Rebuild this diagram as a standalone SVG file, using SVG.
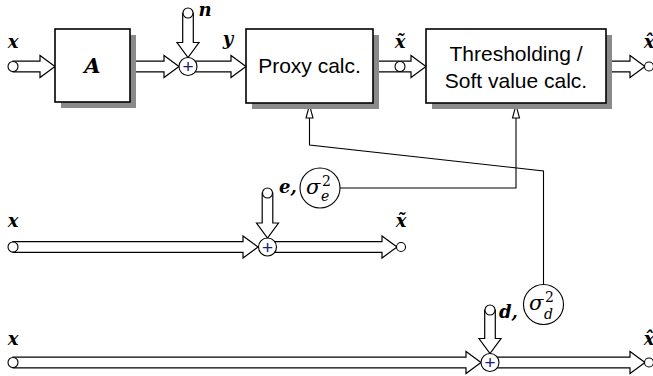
<svg xmlns="http://www.w3.org/2000/svg" width="653" height="376" viewBox="0 0 653 376">
<style>
.band{fill:#fff;stroke:#000;stroke-width:1.2;stroke-linejoin:miter}
.line{fill:none;stroke:#000;stroke-width:1.1}
.tri{fill:#fff;stroke:#000;stroke-width:1.1}
.box{fill:#fff;stroke:#000;stroke-width:1.6}
.shadow{fill:#8a8a8a}
.src{fill:#fff;stroke:#000;stroke-width:1.1}
.sum{fill:#fff;stroke:#000;stroke-width:1.1}
.plus{font-family:"Liberation Sans",Arial,sans-serif;font-size:19px;fill:#1a1a80;text-anchor:middle}
.m{font-family:"DejaVu Serif","Liberation Serif",serif;font-style:italic;font-weight:bold;font-size:18px;fill:#000}
.mc{text-anchor:middle}
.s{font-family:"DejaVu Serif","Liberation Serif",serif;font-style:italic;font-size:21px;fill:#000}
.sup{font-family:"DejaVu Serif","Liberation Serif",serif;font-size:14px;fill:#000}
.sub{font-family:"DejaVu Serif","Liberation Serif",serif;font-style:italic;font-size:14px;fill:#000}
.lbl{font-family:"Liberation Sans",Arial,sans-serif;font-size:21px;fill:#000;text-anchor:middle}
</style>

<g id="connectors">
  <!-- top row -->
  <polygon class="band" points="13,61.2 40,61.2 40,55.5 55,66.5 40,77.5 40,71.8 13,71.8"/>
  <polygon class="band" points="130,61.2 164,61.2 164,55.5 179,66.5 164,77.5 164,71.8 130,71.8"/>
  <polygon class="band" points="188,61.2 231,61.2 231,55.5 246,66.5 231,77.5 231,71.8 188,71.8"/>
  <polygon class="band" points="373,61.2 411,61.2 411,55.5 426,66.5 411,77.5 411,71.8 373,71.8"/>
  <polygon class="band" points="606,61.2 630,61.2 630,55.5 645,66.5 630,77.5 630,71.8 606,71.8"/>
  <polygon class="band" points="182.7,13 182.7,42.5 177,42.5 188,57.5 199,42.5 193.3,42.5 193.3,13"/>
  <!-- middle row -->
  <polygon class="band" points="13,241.7 243,241.7 243,236 258,247 243,258 243,252.3 13,252.3"/>
  <polygon class="band" points="267.5,241.7 382,241.7 382,236 397,247 382,258 382,252.3 267.5,252.3"/>
  <polygon class="band" points="262.2,193 262.2,223 256.5,223 267.5,238 278.5,223 272.8,223 272.8,193"/>
  <!-- bottom row -->
  <polygon class="band" points="13,357.2 466,357.2 466,351.5 481,362.5 466,373.5 466,367.8 13,367.8"/>
  <polygon class="band" points="490,357.2 630,357.2 630,351.5 645,362.5 630,373.5 630,367.8 490,367.8"/>
  <polygon class="band" points="484.7,310 484.7,338.5 479,338.5 490,353.5 501,338.5 495.3,338.5 495.3,310"/>
  <!-- side-information lines -->
  <polyline class="line" points="309.5,118 309.5,145 543.5,171 543.5,284.5"/>
  <polyline class="line" points="516,118 516,188 340,188"/>
  <polygon class="tri" points="309.5,105 306,118 313,118"/>
  <polygon class="tri" points="516,105 512.5,118 519.5,118"/>
</g>

<g id="box-A">
  <rect class="shadow" x="61" y="35" width="75" height="73"/>
  <rect class="box" x="55" y="29" width="75" height="73"/>
  <text class="m mc" x="92.5" y="73" style="font-size:21px">A</text>
</g>

<g id="box-proxy">
  <rect class="shadow" x="252" y="35" width="127" height="74"/>
  <rect class="box" x="246" y="29" width="127" height="74"/>
  <text class="lbl" x="309.5" y="73">Proxy calc.</text>
</g>

<g id="box-threshold">
  <rect class="shadow" x="432" y="35" width="180" height="74"/>
  <rect class="box" x="426" y="29" width="180" height="74"/>
  <text class="lbl" x="516" y="61">Thresholding /</text>
  <text class="lbl" x="516" y="88">Soft value calc.</text>
</g>

<g id="sum-top">
  <circle class="sum" cx="188" cy="66.5" r="9"/>
  <text class="plus" x="188" y="73">+</text>
</g>
<g id="sum-mid">
  <circle class="sum" cx="267.5" cy="247" r="9"/>
  <text class="plus" x="267.5" y="253.5">+</text>
</g>
<g id="sum-bot">
  <circle class="sum" cx="490" cy="362.5" r="9"/>
  <text class="plus" x="490" y="369">+</text>
</g>

<g id="src-x-top">
  <circle class="src" cx="13" cy="66.5" r="5"/>
  <text class="m mc" x="13" y="48">x</text>
</g>
<g id="src-n">
  <circle class="src" cx="188" cy="13" r="5"/>
  <text class="m mc" x="205" y="16">n</text>
</g>
<g id="label-y">
  <text class="m mc" x="228" y="45">y</text>
</g>
<g id="out-xtilde-top">
  <circle class="src" cx="400" cy="66.5" r="5"/>
  <text class="m mc" x="400" y="48">x̃</text>
</g>
<g id="out-xhat-top">
  <circle class="src" cx="649" cy="66.5" r="4.5"/>
  <text class="m mc" x="649" y="48">x̂</text>
</g>

<g id="src-x-mid">
  <circle class="src" cx="13" cy="247" r="5"/>
  <text class="m mc" x="13" y="227">x</text>
</g>
<g id="src-e">
  <circle class="src" cx="267.5" cy="193" r="5"/>
  <text class="m" x="279" y="193">e,</text>
</g>
<g id="sigma-e">
  <circle class="src" cx="320" cy="188" r="20"/>
  <text class="s" x="306" y="194">σ</text>
  <text class="sup" x="322" y="186">2</text>
  <text class="sub" x="321" y="201">e</text>
</g>
<g id="out-xtilde-mid">
  <circle class="src" cx="401" cy="247" r="4.5"/>
  <text class="m mc" x="401" y="227">x̃</text>
</g>

<g id="src-x-bot">
  <circle class="src" cx="13" cy="362.5" r="5"/>
  <text class="m mc" x="13" y="345">x</text>
</g>
<g id="src-d">
  <circle class="src" cx="490" cy="310" r="5"/>
  <text class="m" x="499" y="318">d,</text>
</g>
<g id="sigma-d">
  <circle class="src" cx="543.5" cy="304.5" r="20"/>
  <text class="s" x="529" y="310">σ</text>
  <text class="sup" x="545" y="302">2</text>
  <text class="sub" x="544" y="319">d</text>
</g>
<g id="out-xhat-bot">
  <circle class="src" cx="649" cy="362.5" r="4.5"/>
  <text class="m mc" x="649" y="345">x̂</text>
</g>
</svg>
